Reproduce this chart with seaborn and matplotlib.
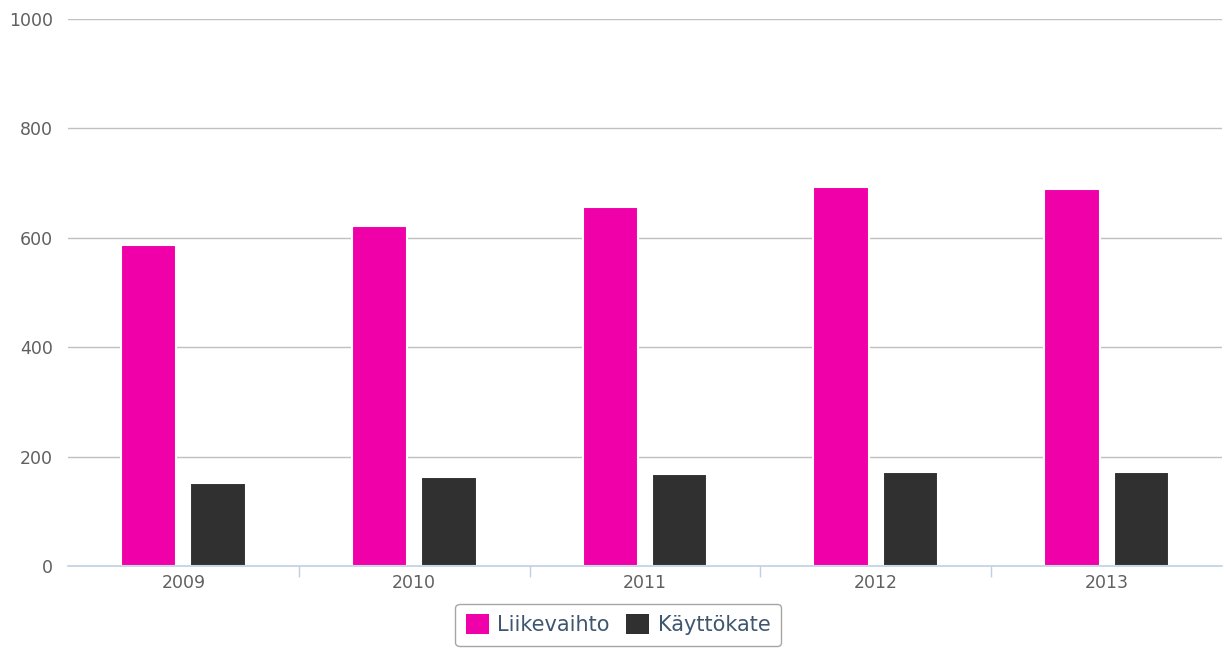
import matplotlib
matplotlib.use("Agg")
import matplotlib.pyplot as plt
import seaborn as sns
import pandas as pd
from matplotlib.ticker import FixedLocator

years = ["2009", "2010", "2011", "2012", "2013"]
liikevaihto = [587, 622, 657, 692, 689]
kayttokate = [152, 163, 169, 171, 171]
series_names = ["Liikevaihto", "Käyttökate"]
colors = ["#F000A8", "#303030"]

df = pd.DataFrame({
    "year": years * 2,
    "value": liikevaihto + kayttokate,
    "series": [series_names[0]] * len(years) + [series_names[1]] * len(years),
})

sns.set_style("white")
plt.rcParams['font.family'] = ['DejaVu Sans']

fig = plt.figure(figsize=(12.24, 6.51), dpi=100)
ax = fig.add_axes([68/1224, 1 - 566/651, (1222-68)/1224, (566-19)/651])

sns.barplot(data=df, x="year", y="value", hue="series", palette=colors,
            saturation=1, width=0.6, gap=0.2, ax=ax, edgecolor="white",
            linewidth=1.5, legend=True, errorbar=None)

ax.set_ylim(0, 1000)
ax.set_xlim(-0.5, 4.5)
ax.set_yticks([0, 200, 400, 600, 800, 1000])
for y in [200, 400, 600, 800, 1000]:
    ax.axhline(y, color="#C0C0C0", lw=1, zorder=0)
ax.set_xlabel("")
ax.set_ylabel("")
for s in ["top", "right", "left"]:
    ax.spines[s].set_visible(False)
ax.spines["bottom"].set_color("#C0D0E0")
ax.spines["bottom"].set_linewidth(1.2)
ax.tick_params(axis="y", length=0, labelsize=12.5, labelcolor="#606060", pad=11)
ax.tick_params(axis="x", which="major", bottom=False, length=0, labelsize=12.5,
               labelcolor="#606060", pad=6)
ax.xaxis.set_minor_locator(FixedLocator([0.5, 1.5, 2.5, 3.5]))
ax.tick_params(axis="x", which="minor", bottom=True, length=8, color="#C0D0E0", width=1)

h, l = ax.get_legend_handles_labels()
ax.legend_.remove()
leg = fig.legend(h, l, loc="lower center", bbox_to_anchor=(0.505, -0.008), ncol=2,
                 frameon=True, fancybox=True, fontsize=15, handlelength=1.1,
                 handleheight=1.1, columnspacing=0.8, handletextpad=0.4,
                 borderpad=0.5, edgecolor="#909090")
leg.get_frame().set_linewidth(1)
for t in leg.get_texts():
    t.set_color("#3E576F")
for p in leg.get_patches():
    p.set_edgecolor("none")

fig.savefig("out.png", dpi=100)
